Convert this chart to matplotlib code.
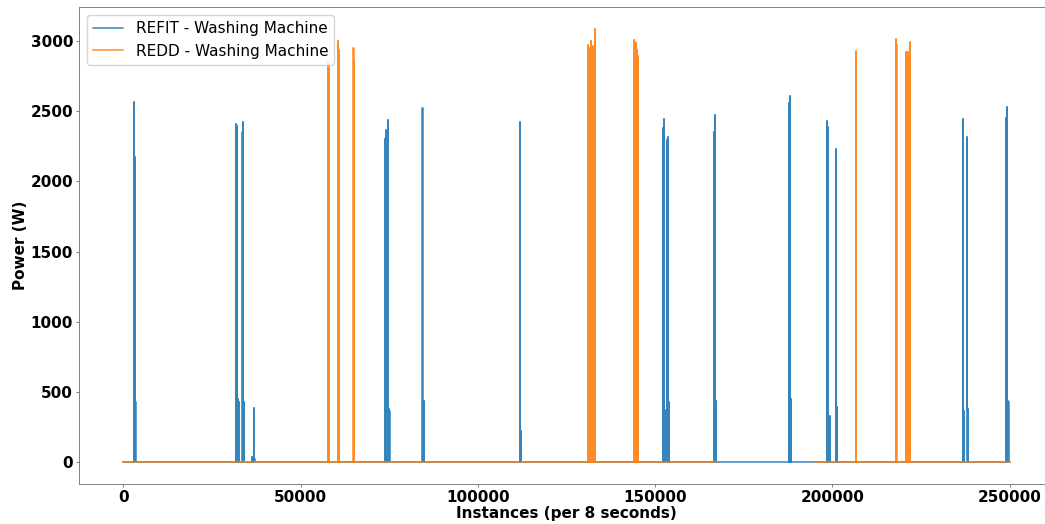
# -*- coding: utf-8 -*-
"""
Washing machine power: REFIT vs REDD
"""

# %% imports

import numpy as np
from matplotlib import pyplot as plt

# %% data (pulse position in samples, power in W)

refit_pos = [3000, 3107, 3200, 3400, 3475, 3550,
             31750, 31836, 32000, 32118, 32300, 32400, 32500,
             33600, 33700, 34000, 34096,
             36300, 36441, 36600, 36921, 37000,
             73729, 73900, 74000, 74300, 74500, 74661, 74800, 75056,
             84200, 84379, 84700, 84831,
             111780, 111950, 112062,
             152300, 152401, 152700, 152825, 153400, 153531, 153850, 153955,
             166600, 166751, 167047, 167147,
             187800, 187938, 188233, 188333,
             198400, 198503, 198785, 199100, 199237, 200932, 201200, 201328,
             236723, 236850, 237000, 237090, 237853, 238100, 238220,
             249000, 249153, 249533, 249633]
refit_watts = [2490, 2566, 2170, 428, 410, 420,
               2380, 2407, 2390, 2373, 449, 440, 430,
               2350, 2423, 428, 420,
               38, 40, 30, 385, 25,
               2300, 2280, 2364, 413, 400, 2435, 380, 363,
               2450, 2518, 435, 430,
               2419, 335, 220,
               2380, 2443, 360, 370, 2290, 2312, 420, 428,
               2347, 2471, 435, 430,
               2554, 2604, 454, 440,
               2383, 2430, 2383, 320, 328, 2229, 380, 392,
               2443, 2380, 360, 368, 2316, 375, 380,
               2450, 2526, 435, 430]

redd_pos = [57712, 57900,
            60537, 60700,
            64887, 65050,
            131158, 131400, 131638, 131921, 132150, 132400, 132650, 132910,
            143983, 144250, 144633, 144850, 145056,
            206695,
            217881, 218079,
            220621, 221186, 221836]
redd_watts = [2850, 2810,
              2995, 2937,
              2949, 2858,
              2972, 2940, 2950, 2995, 2930, 2960, 2940, 3084,
              3008, 2990, 2981, 2930, 2894,
              2929,
              3010, 2972,
              2922, 2922, 2994]

n_samples = 250000
redd_gap = (167300, 195000)  # no REDD readings here

# %% helpers

def pulses_to_line(pos, watts, end, gap=None, width=40):
    """Turn pulse list into a zero-based polyline."""
    xs, ys = [0], [0]
    gap_done = gap is None
    for p, w in zip(pos, watts):
        if not gap_done and p > gap[0]:
            xs += [gap[0], np.nan, gap[1]]
            ys += [0, np.nan, 0]
            gap_done = True
        xs += [p, p, p + width, p + width]
        ys += [0, w, w, 0]
    if not gap_done:
        xs += [gap[0], np.nan, gap[1]]
        ys += [0, np.nan, 0]
    xs.append(end)
    ys.append(0)
    return np.array(xs, dtype=float), np.array(ys, dtype=float)

refit_x, refit_y = pulses_to_line(refit_pos, refit_watts, n_samples)
redd_x, redd_y = pulses_to_line(redd_pos, redd_watts, n_samples, gap=redd_gap)

# %% plot

plt.rc('font', size=11)

fig = plt.figure(figsize=(10.45, 5.24), dpi=100)
ax = fig.add_axes([0.0756, 0.0763, 0.933, 0.910])

ax.plot(refit_x, refit_y, label='REFIT - Washing Machine', color='tab:blue', alpha=0.9, lw=1.1)
ax.plot(redd_x, redd_y, label='REDD - Washing Machine', color='tab:orange', alpha=0.9, lw=1.1)

ax.set_xlabel('Instances (per 8 seconds)', fontweight='bold', labelpad=1)
ax.set_ylabel('Power (W)', fontweight='bold', labelpad=1.5)
for lab in ax.get_xticklabels() + ax.get_yticklabels():
    lab.set_fontweight('bold')
ax.tick_params(labelsize=11, length=2.5, width=0.6, pad=1.8, color='0.4')

for sp in ax.spines.values():
    sp.set_color('0.5')
    sp.set_linewidth(0.7)

ax.legend(loc='upper left')

plt.savefig('out.png', dpi=100)
